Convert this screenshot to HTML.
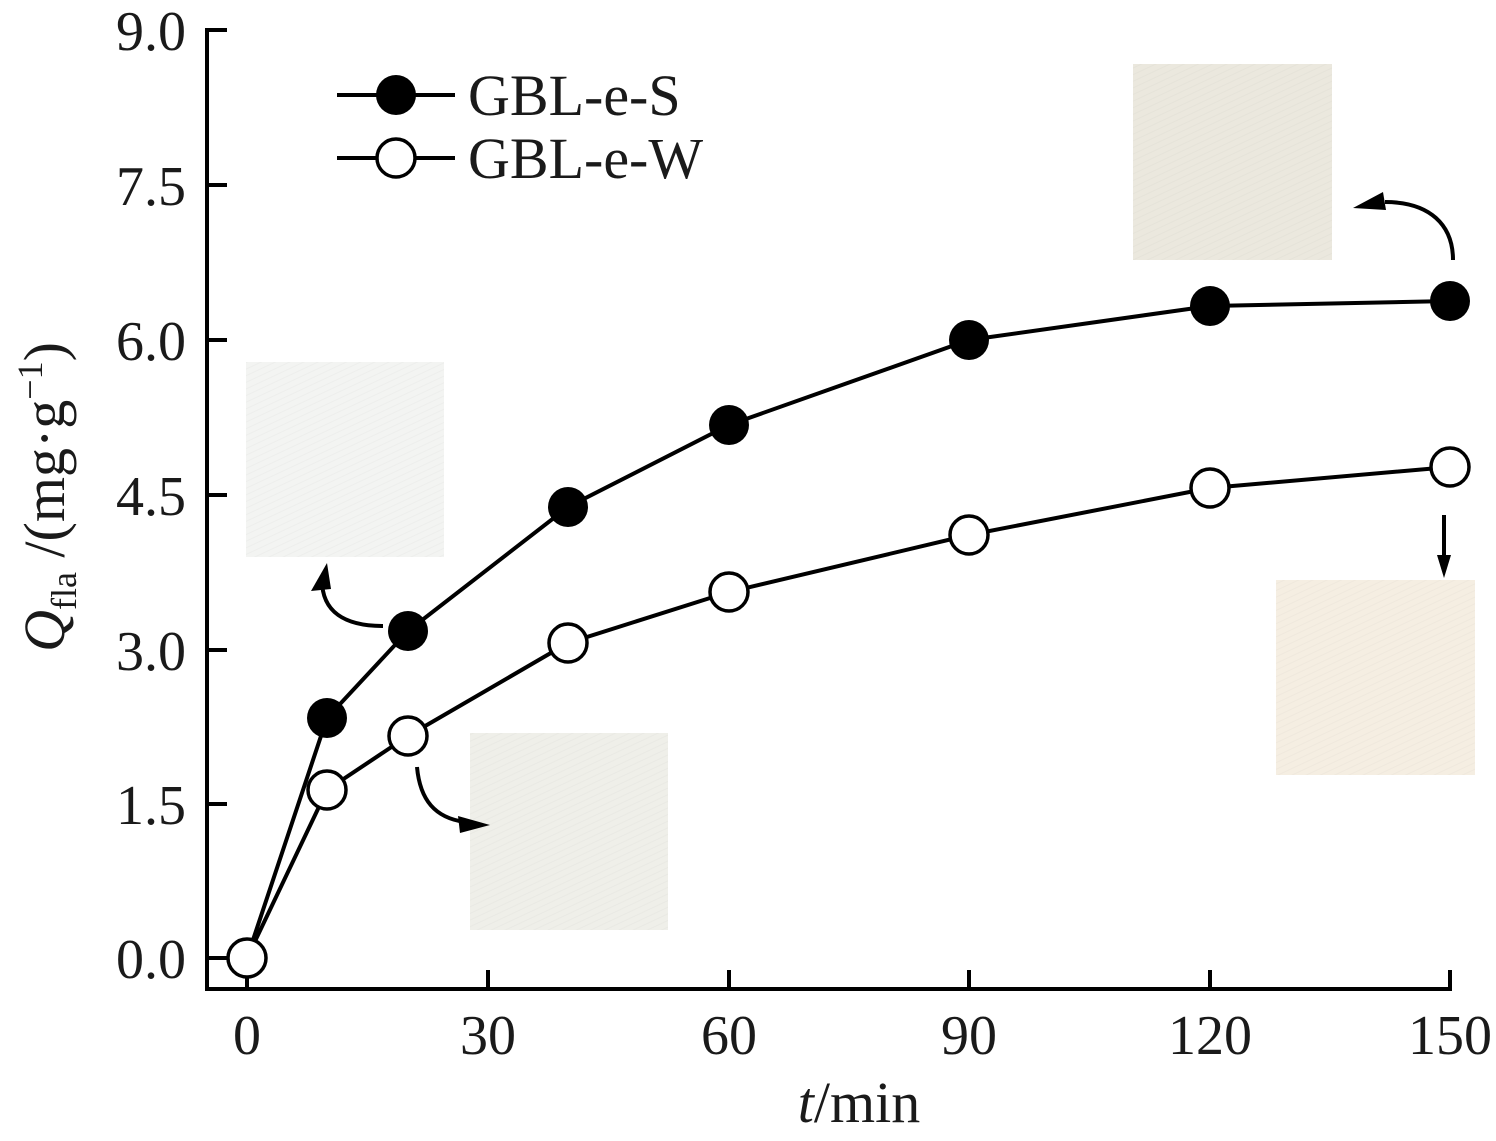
<!DOCTYPE html>
<html><head><meta charset="utf-8"><style>
html,body{margin:0;padding:0;background:#fff;}
svg{display:block;}
text{font-family:"Liberation Serif",serif;fill:#1a1a1a;}
</style></head><body>
<svg width="1496" height="1141" viewBox="0 0 1496 1141" xmlns="http://www.w3.org/2000/svg">
<defs>
<pattern id="tw" width="6" height="6" patternUnits="userSpaceOnUse" patternTransform="rotate(-25)">
<line x1="0" y1="0" x2="6" y2="0" stroke="#000" stroke-opacity="0.025" stroke-width="2"/>
</pattern>
</defs>
<rect x="1133" y="64" width="199" height="196" fill="#ebe8de"/><rect x="1133" y="64" width="199" height="196" fill="url(#tw)"/>
<rect x="246" y="362" width="198" height="195" fill="#f3f4f2"/><rect x="246" y="362" width="198" height="195" fill="url(#tw)"/>
<rect x="470" y="733" width="198" height="197" fill="#efefe9"/><rect x="470" y="733" width="198" height="197" fill="url(#tw)"/>
<rect x="1276" y="580" width="199" height="195" fill="#f5eee2"/><rect x="1276" y="580" width="199" height="195" fill="url(#tw)"/>
<g stroke="#000" stroke-width="4" fill="none">
<line x1="207" y1="28" x2="207" y2="991"/>
<line x1="205" y1="989" x2="1452" y2="989"/>
<line x1="207" y1="30" x2="227" y2="30"/>
<line x1="207" y1="185" x2="227" y2="185"/>
<line x1="207" y1="340" x2="227" y2="340"/>
<line x1="207" y1="495" x2="227" y2="495"/>
<line x1="207" y1="650" x2="227" y2="650"/>
<line x1="207" y1="804" x2="227" y2="804"/>
<line x1="207" y1="958" x2="227" y2="958"/>
<line x1="247" y1="989" x2="247" y2="970"/>
<line x1="488" y1="989" x2="488" y2="970"/>
<line x1="729" y1="989" x2="729" y2="970"/>
<line x1="969" y1="989" x2="969" y2="970"/>
<line x1="1210" y1="989" x2="1210" y2="970"/>
<line x1="1450" y1="989" x2="1450" y2="970"/>
</g>
<g font-size="56" text-anchor="end">
<text x="186" y="50">9.0</text>
<text x="186" y="205">7.5</text>
<text x="186" y="360">6.0</text>
<text x="186" y="515">4.5</text>
<text x="186" y="670">3.0</text>
<text x="186" y="824">1.5</text>
<text x="186" y="978">0.0</text>
</g>
<g font-size="56" text-anchor="middle">
<text x="247" y="1054">0</text>
<text x="488" y="1054">30</text>
<text x="729" y="1054">60</text>
<text x="969" y="1054">90</text>
<text x="1210" y="1054">120</text>
<text x="1450" y="1054">150</text>
<text x="859" y="1122" font-size="58"><tspan font-style="italic">t</tspan>/min</text>
</g>
<text transform="translate(64,497) rotate(-90)" font-size="58" text-anchor="middle"><tspan font-style="italic">Q</tspan><tspan font-size="36" dy="12">fla</tspan><tspan dy="-12"> /(mg·g</tspan><tspan font-size="36" dy="-22">−1</tspan><tspan dy="22">)</tspan></text>
<g stroke="#000" stroke-width="4" fill="none">
<polyline points="247,958 327,718 408,631 568,507 729,425 969,340 1210,306 1450,301"/>
<polyline points="247,958 327,790 408,736 568,643 729,592 969,535 1210,488 1450,467"/>
</g>
<g fill="#000">
<circle cx="327" cy="718" r="20"/><circle cx="408" cy="631" r="20"/><circle cx="568" cy="507" r="20"/><circle cx="729" cy="425" r="20"/><circle cx="969" cy="340" r="20"/><circle cx="1210" cy="306" r="20"/><circle cx="1450" cy="301" r="20"/>
</g>
<g fill="#fff" stroke="#000" stroke-width="3.5">
<circle cx="247" cy="958" r="19"/><circle cx="327" cy="790" r="19"/><circle cx="408" cy="736" r="19"/><circle cx="568" cy="643" r="19"/><circle cx="729" cy="592" r="19"/><circle cx="969" cy="535" r="19"/><circle cx="1210" cy="488" r="19"/><circle cx="1450" cy="467" r="19"/>
</g>
<g stroke="#000" stroke-width="4" fill="none">
<path d="M1453,260 C1453,225 1430,202 1385,202"/>
<path d="M383,626 C345,626 322,612 322,580"/>
<path d="M417,767 C420,800 435,818 465,822"/>
<path d="M1444,515 L1444,565"/>
</g>
<g fill="#000">
<polygon points="1353,208 1383,192 1386,210"/>
<polygon points="327,563 311,591 331,589"/>
<polygon points="490,825 458,816 460,833"/>
<polygon points="1444,578 1437,555 1451,555"/>
</g>
<g stroke="#000" stroke-width="4"><line x1="337" y1="95" x2="455" y2="95"/><line x1="337" y1="158" x2="455" y2="158"/></g>
<circle cx="396" cy="95" r="20" fill="#000"/>
<circle cx="396" cy="158" r="19" fill="#fff" stroke="#000" stroke-width="3.5"/>
<text x="468" y="115" font-size="58">GBL-e-S</text>
<text x="468" y="178" font-size="58">GBL-e-W</text>
</svg>
</body></html>
